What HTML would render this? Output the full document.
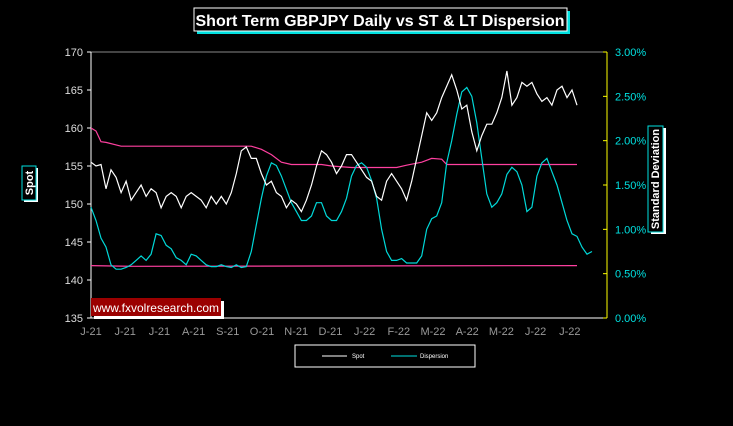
<!DOCTYPE html>
<html><head><meta charset="utf-8"><style>
body{margin:0;background:#000;width:733px;height:421px;overflow:hidden;font-family:"Liberation Sans",sans-serif}
svg text{font-family:"Liberation Sans",sans-serif}
</style></head><body>
<svg id="c" width="733" height="421">
<rect x="0" y="0" width="733" height="421" fill="#000"/>
<g>
<rect x="197" y="11" width="373" height="23" fill="#00e0e0"/>
<rect x="194" y="8" width="373" height="23" fill="#000" stroke="#fff" stroke-width="1"/>
<text x="380" y="26" fill="#fff" font-size="16" font-weight="bold" text-anchor="middle">Short Term GBPJPY Daily vs  ST &amp; LT Dispersion</text>
</g>
<line x1="91" y1="52" x2="607" y2="52" stroke="#888"/>
<line x1="91" y1="52" x2="91" y2="318" stroke="#fff"/>
<line x1="91" y1="318" x2="607" y2="318" stroke="#fff"/>
<line x1="607" y1="52" x2="607" y2="318" stroke="#ff0"/>
<g id="ticks"></g>
<g id="series"></g>
<g>
<rect x="94" y="301" width="130" height="18" fill="#fff"/>
<rect x="91" y="298" width="130" height="18" fill="#9b0000"/>
<text x="156" y="312" fill="#fff" font-size="12" text-anchor="middle">www.fxvolresearch.com</text>
</g>
<g>
<rect x="24" y="168" width="14" height="34" fill="#fff"/>
<rect x="22" y="166" width="14" height="34" fill="#000" stroke="#00e0e0"/>
<text transform="translate(33,183) rotate(-90)" fill="#fff" font-size="11" font-weight="bold" text-anchor="middle">Spot</text>
</g>
<g>
<rect x="651" y="128" width="15" height="106" fill="#fff"/>
<rect x="648" y="126" width="15" height="106" fill="#000" stroke="#00e0e0"/>
<text transform="translate(659,179) rotate(-90)" fill="#fff" font-size="11" font-weight="bold" text-anchor="middle">Standard Deviation</text>
</g>
<g>
<rect x="295" y="345" width="180" height="22" fill="#000" stroke="#fff"/>
<line x1="322" y1="356" x2="347" y2="356" stroke="#fff"/>
<text x="352" y="358" fill="#fff" font-size="6">Spot</text>
<line x1="391" y1="356" x2="417" y2="356" stroke="#00e0e0"/>
<text x="420" y="358" fill="#fff" font-size="6">Dispersion</text>
</g>
</svg>
<script>
const leftTicks=[135,140,145,150,155,160,165,170];
const rightTicks=["0.00%","0.50%","1.00%","1.50%","2.00%","2.50%","3.00%"];
const rightVals=[0,0.5,1,1.5,2,2.5,3];
const xLabels=["J-21","J-21","J-21","A-21","S-21","O-21","N-21","D-21","J-22","F-22","M-22","A-22","M-22","J-22","J-22"];
const spot=[155.5,155,155.2,152,154.5,153.5,151.5,153,150.5,151.5,152.5,151,152,151.5,149.5,151,151.5,151,149.5,151,151.5,151,150.5,149.5,151,150,151,150,151.5,154,157,157.5,156,156,154,152.5,153,151.5,151,149.5,150.5,150,149,150.5,152.5,155,157,156.5,155.5,154,155,156.5,156.5,155.5,154.5,153.5,153,151,150.5,153,154,153,152,150.5,153,156,159,162,161,162,164,165.5,167,165,162.5,163,159.5,157,159,160.5,160.5,162,164,167.5,163,164,166,165.5,166,164.5,163.5,164,163,165,165.5,164,165,163];
const dispersion=[1.25,1.1,0.9,0.8,0.6,0.55,0.55,0.57,0.6,0.65,0.7,0.65,0.72,0.95,0.93,0.82,0.78,0.68,0.65,0.6,0.72,0.7,0.65,0.6,0.58,0.58,0.6,0.58,0.57,0.6,0.57,0.58,0.75,1.05,1.35,1.6,1.75,1.72,1.6,1.45,1.3,1.2,1.1,1.1,1.15,1.3,1.3,1.15,1.1,1.1,1.2,1.35,1.6,1.72,1.75,1.7,1.55,1.35,1.0,0.75,0.65,0.65,0.67,0.62,0.62,0.62,0.7,1.0,1.12,1.15,1.3,1.75,2.0,2.3,2.55,2.6,2.5,2.2,1.8,1.4,1.25,1.3,1.4,1.62,1.7,1.65,1.5,1.2,1.25,1.6,1.75,1.8,1.65,1.5,1.3,1.1,0.95,0.92,0.8,0.72,0.75];
const ltUpperIdx=[0,1,2,3,6,32,34,36,38,40,46,48,52,61,63,66,68,70,71,74,76,97];
const ltUpperVal=[160,159.6,158.2,158.1,157.6,157.6,157.2,156.5,155.5,155.2,155.2,155.0,154.8,154.8,155.1,155.5,156.0,155.9,155.2,155.2,155.2,155.2];
const ltLowerIdx=[0,8,97];
const ltLowerVal=[141.9,141.8,141.9];
const NS="http://www.w3.org/2000/svg";
const X0=91,X1=607,XEND=577,Y0=318,Y1=52;
const N=98;
function xi(i){return X0+i*(XEND-X0)/(N-1);}
function yL(v){return Y0-(v-135)/(170-135)*(Y0-Y1);}
function yR(v){return Y0-v/3*(Y0-Y1);}
function mk(t,a,p){const e=document.createElementNS(NS,t);for(const k in a)e.setAttribute(k,a[k]);p.appendChild(e);return e;}
const tg=document.getElementById('ticks'),sg=document.getElementById('series');
leftTicks.forEach(v=>{const y=yL(v);
 const l=mk('line',{x1:87,x2:91,y1:y,y2:y,stroke:'#fff'},tg);
 
 
 const t=mk('text',{x:83,y:y+4,fill:'#ddd','font-size':11,'text-anchor':'end'},tg);t.textContent=v;
 
 });
rightVals.forEach((v,i)=>{const y=yR(v);
 const l=mk('line',{x1:603,x2:607,y1:y,y2:y,stroke:'#ff0'},tg);
 
 
 const t=mk('text',{x:615,y:y+4,fill:'#00e0e0','font-size':11},tg);t.textContent=rightTicks[i];
 
 });
xLabels.forEach((s,i)=>{const x=X0+i*34.2;
 const t=mk('text',{x:x,y:335,fill:'#999','font-size':11,'text-anchor':'middle'},tg);t.textContent=s;
 
 });
function path(pts,color,name){const d=pts.map((p,i)=>(i?'L':'M')+p[0].toFixed(1)+','+p[1].toFixed(1)).join('');
 const e=mk('path',{d:d,fill:'none',stroke:color,'stroke-width':1.2},sg);
 
 }
path(ltUpperIdx.map((k,i)=>[xi(k),yL(ltUpperVal[i])]),'#ff40a0','lt-dispersion-upper');
path(ltLowerIdx.map((k,i)=>[xi(k),yL(ltLowerVal[i])]),'#ff40a0','lt-dispersion-lower');
path(dispersion.map((v,i)=>[xi(i),yR(v)]),'#00d8d8','dispersion-line');
path(spot.map((v,i)=>[xi(i),yL(v)]),'#fff','spot-line');
</script>
</body></html>
